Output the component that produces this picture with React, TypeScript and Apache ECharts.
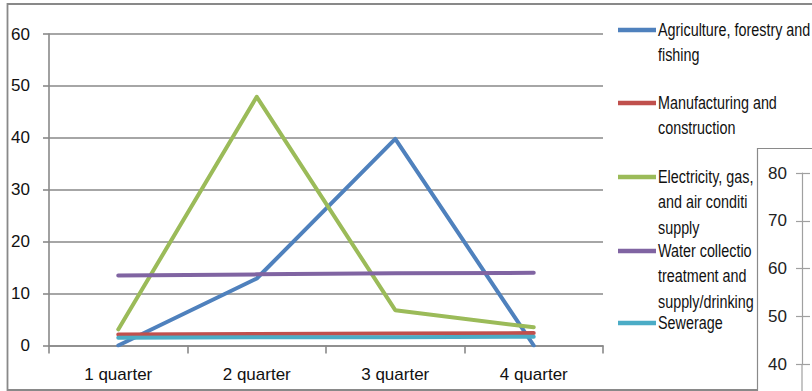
import React, { useEffect, useRef } from "react";
import * as echarts from "echarts";

// Quarterly values by economic activity
const categories = ["1 quarter", "2 quarter", "3 quarter", "4 quarter"];
const seriesNames = [
  "Agriculture, forestry and fishing",
  "Manufacturing and construction",
  "Electricity, gas, steam and air conditioning supply",
  "Water collection, treatment and supply/drinking",
  "Sewerage",
];
const legendLabels = [
  "Agriculture, forestry and\nfishing",
  "Manufacturing and\nconstruction",
  "Electricity, gas, steam\nand air conditioning\nsupply",
  "Water collection,\ntreatment and\nsupply/drinking",
  "Sewerage",
];
const agriculture = [0, 12.9, 39.8, 0];
const manufacturing = [2.1, 2.2, 2.3, 2.4];
const electricity = [3.1, 47.9, 6.8, 3.5];
const water = [13.5, 13.7, 13.9, 14.0];
const sewerage = [1.5, 1.6, 1.6, 1.7];
const seriesValues = [agriculture, manufacturing, electricity, water, sewerage];
const seriesColors = ["#4F81BD", "#C0504D", "#9BBB59", "#8064A2", "#4BACC6"];

// Main value axis range
const yMin = 0;
const yMax = 60;
const yStep = 10;

// Neighbouring chart's value axis (partly visible)
const insetMin = 40;
const insetMax = 80;
const insetStep = 10;

const FONT = "'Liberation Sans', Arial, sans-serif";
const GRID_GRAY = "#898989";
const legendRowY = [30, 103, 177, 251, 323];
const LEGEND_SQUEEZE = 0.82;
// legend entries that run under the neighbouring chart's frame are cut there
const legendClipWidth = [220, 220, 121, 121, 220];

export default function App() {
  const ref = useRef<HTMLDivElement | null>(null);

  useEffect(() => {
    if (!ref.current) return;
    const chart = echarts.init(ref.current, undefined, { renderer: "svg" });

    const legendGraphics: any[] = [];
    seriesNames.forEach((name, i) => {
      const y = legendRowY[i];
      legendGraphics.push({
        type: "line",
        z: 10,
        shape: { x1: 618, y1: y, x2: 656, y2: y },
        style: { stroke: seriesColors[i], lineWidth: 4.5 },
      });
      legendGraphics.push({
        type: "text",
        z: 10,
        x: 658,
        y: y - 13,
        scaleX: LEGEND_SQUEEZE,
        style: {
          text: legendLabels[i],
          fill: "#111",
          font: `17.5px ${FONT}`,
          lineHeight: 25.5,
          verticalAlign: "top",
          align: "left",
          width: legendClipWidth[i],
          overflow: "truncate",
          ellipsis: "",
        },
      });
    });

    const option: any = {
      animation: false,
      backgroundColor: "#ffffff",
      grid: [
        { left: 49, top: 34, width: 554, height: 311.5 },
        { left: 802, top: 173, width: 8, height: 191 },
      ],
      xAxis: [
        {
          type: "category",
          gridIndex: 0,
          data: categories,
          boundaryGap: true,
          axisLine: { lineStyle: { color: GRID_GRAY, width: 1.6 } },
          axisTick: { show: true, length: 8, lineStyle: { color: GRID_GRAY, width: 1.6 } },
          axisLabel: { color: "#111", fontFamily: FONT, fontSize: 17, margin: 20 },
          splitLine: { show: false },
        },
        { type: "value", gridIndex: 1, show: false },
      ],
      yAxis: [
        {
          type: "value",
          gridIndex: 0,
          min: yMin,
          max: yMax,
          interval: yStep,
          axisLine: { show: true, lineStyle: { color: GRID_GRAY, width: 1.6 } },
          axisTick: { show: true, length: 6, lineStyle: { color: GRID_GRAY, width: 1.6 } },
          axisLabel: { color: "#111", fontFamily: FONT, fontSize: 17, margin: 19 },
          splitLine: { show: true, lineStyle: { color: GRID_GRAY, width: 1.6 } },
        },
        {
          type: "value",
          gridIndex: 1,
          min: insetMin,
          max: insetMax,
          interval: insetStep,
          z: 40,
          axisLine: { show: true, lineStyle: { color: "#a0a0a0", width: 1.2 } },
          axisTick: { show: true, length: 6, lineStyle: { color: "#a0a0a0", width: 1.2 } },
          axisLabel: {
            color: "#222",
            fontFamily: FONT,
            fontSize: 17,
            margin: 15,
          },
          splitLine: { show: true, lineStyle: { color: "#a0a0a0", width: 1.2 } },
        },
      ],
      series: seriesNames.map((name, i) => ({
        name,
        type: "line",
        xAxisIndex: 0,
        yAxisIndex: 0,
        data: seriesValues[i],
        symbol: "none",
        lineStyle: { color: seriesColors[i], width: 4, cap: "round", join: "round" },
        itemStyle: { color: seriesColors[i] },
      })),
      graphic: [
        // outer chart frame
        {
          type: "rect",
          z: 1,
          shape: { x: 7.5, y: 4, width: 900, height: 386 },
          style: { fill: "none", stroke: GRID_GRAY, lineWidth: 1.8 },
          silent: true,
        },
        ...legendGraphics,
        // frame of the adjacent chart, drawn over the legend
        {
          type: "rect",
          z: 30,
          shape: { x: 757.5, y: 148.5, width: 100, height: 300 },
          style: { fill: "#ffffff", stroke: "#8a8a8a", lineWidth: 1.2 },
          silent: true,
        },
        // its value axis continues past the bottom edge
        {
          type: "line",
          z: 41,
          shape: { x1: 802, y1: 364, x2: 802, y2: 395 },
          style: { stroke: "#a0a0a0", lineWidth: 1.2 },
          silent: true,
        },
      ],
    };

    chart.setOption(option);
    return () => chart.dispose();
  }, []);

  return (
    <div
      ref={ref}
      style={{ position: "absolute", left: 0, top: 0, width: 812, height: 391 }}
    />
  );
}
